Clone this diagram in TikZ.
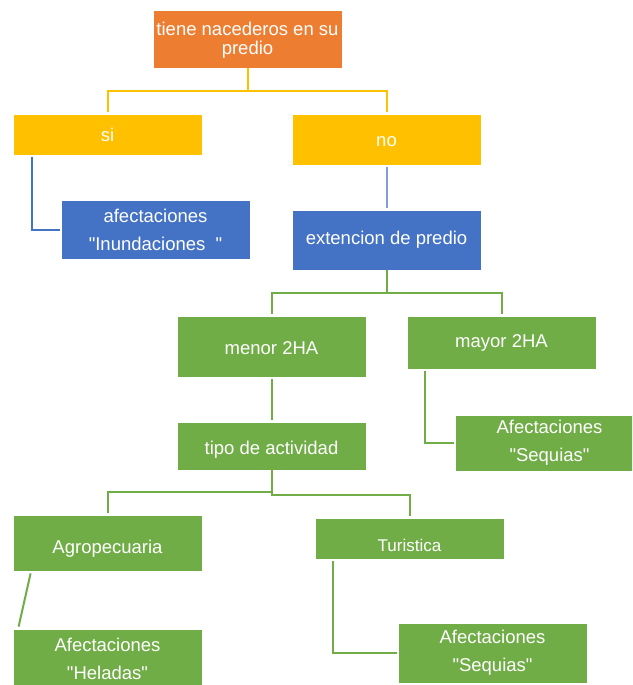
\documentclass[tikz,border=0pt]{standalone}
\usepackage{fontspec}
\setmainfont{Liberation Sans}[Ligatures=TeXOff]
\usetikzlibrary{calc}
\definecolor{cOrange}{HTML}{ED7D31}
\definecolor{cYellow}{HTML}{FFC000}
\definecolor{cBlue}{HTML}{4472C4}
\definecolor{cBlueLt}{HTML}{7F9FD9}
\definecolor{cGreen}{HTML}{70AD47}
% straight double quote
\newcommand{\dq}{\symbol{34}}
\tikzset{
  box/.style={draw=white, line width=0.8pt, minimum width=189pt, inner sep=0pt,
    text=white, align=center, font=\fontsize{18.5}{28}\selectfont},
  link/.style={line width=2pt},
}
\begin{document}
\begin{tikzpicture}[x=1pt, y=-1pt]
  \useasboundingbox (0,0) rectangle (632,685);
  \clip (0,0) rectangle (632,685);
  \fill[white] (0,0) rectangle (632,685);

  % boxes
  \node[box, fill=cOrange, minimum height=58pt, font=\fontsize{18.5}{21}\selectfont]
    (top) at (247.5,39) {\raisebox{-2pt}[\height][0pt]{tiene nacederos en su}\\predio};
  \node[box, fill=cYellow, minimum height=41pt] (si) at (107.5,134.5) {si};
  \node[box, fill=cYellow, minimum height=51pt] (no) at (386.5,139.5) {\raisebox{-2pt}[\height][0pt]{no}};
  \node[box, fill=cBlue, minimum height=59pt] (inund) at (155.5,229.5)
    {afectaciones\\\dq Inundaciones \ \dq};
  \node[box, fill=cBlue, minimum height=60pt] (ext) at (386.5,240) {extencion de predio};
  \node[box, fill=cGreen, minimum height=61pt] (menor) at (271.5,346.5) {\raisebox{-2pt}[\height][0pt]{menor 2HA}};
  \node[box, fill=cGreen, minimum height=53pt] (mayor) at (501.5,342.5) {mayor 2HA};
  \node[box, fill=cGreen, minimum height=56pt] (seqA) at (549.5,443) {Afectaciones\\\dq Sequias\dq};
  \node[box, fill=cGreen, minimum height=48pt] (tipo) at (271.5,446) {\raisebox{-2pt}[\height][0pt]{tipo de actividad}};
  \node[box, fill=cGreen, minimum height=56pt] (agro) at (107.5,543) {\raisebox{-4pt}[\height][0pt]{Agropecuaria}};
  \node[box, fill=cGreen, minimum height=41pt, font=\fontsize{17}{20}\selectfont]
    (tur) at (409.5,538.5) {\raisebox{-7pt}[\height][0pt]{Turistica}};
  \node[box, fill=cGreen, minimum height=60pt] (hel) at (107.5,659) {Afectaciones\\\dq Heladas\dq};
  \node[box, fill=cGreen, minimum height=60pt] (seqB) at (492.5,653) {Afectaciones\\\dq Sequias\dq};

  % connectors
  \draw[link, cYellow, shorten >=2pt] (top.south) -- ++(0,23) coordinate (ty) -| (si.north);
  \draw[link, cYellow, shorten >=2pt] (ty) -| (no.north);
  \draw[link, cBlue, shorten >=1pt] ($(si.south west)+(19,2)$) |- (inund.west);
  \draw[link, cBlueLt, shorten <=2pt, shorten >=2pt] (no.south) -- (ext.north);
  \draw[link, cGreen, shorten >=2pt] (ext.south) -- ++(0,23) coordinate (ey) -| (menor.north);
  \draw[link, cGreen, shorten >=2pt] (ey) -| (mayor.north);
  \draw[link, cGreen, shorten <=2pt, shorten >=2pt] (menor.south) -- (tipo.north);
  \draw[link, cGreen, shorten >=1pt] ($(mayor.south west)+(18,2)$) |- (seqA.west);
  \draw[link, cGreen, shorten >=2pt] (tipo.south) -- ++(0,22) -| (agro.north);
  \draw[link, cGreen, shorten >=2pt] ($(tipo.south)+(0,2)$) -- ++(0,23) -| (tur.north);
  \draw[link, cGreen] ($(agro.south west)+(18,2)$) -- ($(hel.north west)+(6,-2)$);
  \draw[link, cGreen, shorten >=1pt] ($(tur.south west)+(18,2)$) |- (seqB.west);
\end{tikzpicture}
\end{document}
